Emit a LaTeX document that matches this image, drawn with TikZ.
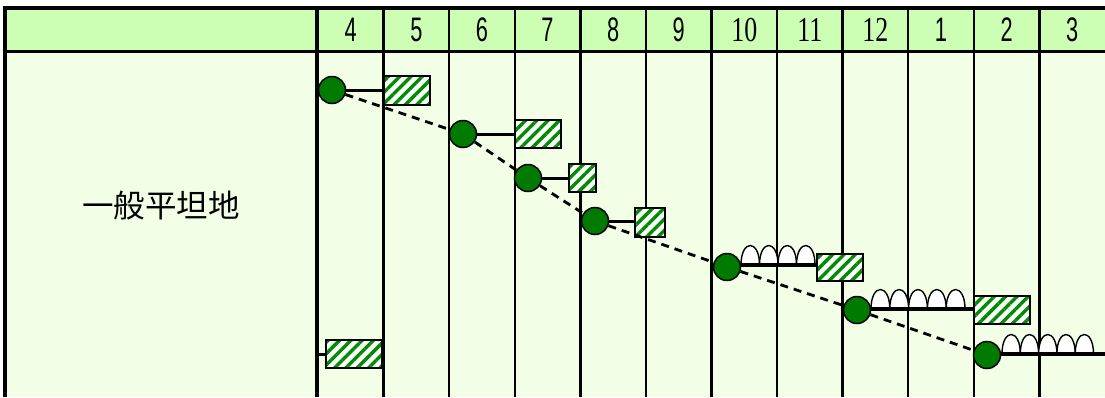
\documentclass[tikz,border=0pt]{standalone}
\usepackage{fontspec}
\usetikzlibrary{patterns.meta}
\newfontfamily\cjkfont{Noto Sans CJK JP}
\newfontfamily\numsans{Liberation Sans}
\newfontfamily\numserif{Liberation Serif}
\definecolor{hdrfill}{RGB}{204,255,180}
\definecolor{bodyfill}{RGB}{242,255,230}
\definecolor{dotgreen}{RGB}{0,122,0}
\definecolor{hatchgreen}{RGB}{0,140,0}
\tikzset{
  gridline/.style={line width=2.4pt},
  heavyline/.style={line width=4pt},
  sowdot/.style={circle, draw=black, line width=1.5pt, fill=dotgreen, minimum size=27pt, inner sep=0pt},
  hatchbox/.style={rectangle, draw=black, line width=2.8pt, inner sep=0pt,
    preaction={fill=white},
    pattern={Lines[angle=45,distance=8pt,line width=3.4pt]}, pattern color=hatchgreen},
  thinbar/.style={line width=3pt},
  thickbar/.style={line width=4.8pt},
  chainline/.style={line width=2.8pt, dash pattern=on 8pt off 6pt},
  archshape/.style={draw=black, line width=1.4pt, fill=white},
  monthsans/.style={font=\fontsize{34}{34}\numsans, anchor=base},
  monthserif/.style={font=\fontsize{35}{35}\numserif, anchor=base},
}
\newcommand{\archrow}[4]{% start x, baseline y, count, width
  \foreach \k in {1,...,#3}{
    \path[archshape] ({#1+(\k-1)*#4},#2) .. controls ({#1+(\k-1)*#4},{#2-26}) and ({#1+\k*#4},{#2-26}) .. ({#1+\k*#4},#2);
  }
}
\begin{document}
\begin{tikzpicture}[x=1pt,y=-1pt]
\useasboundingbox (0,0) rectangle (1105,397);
% backgrounds
\fill[bodyfill] (5,52) rectangle (1105,397);
\fill[hdrfill] (5,8) rectangle (1105,52);
% month grid lines
\foreach \i in {1,...,11}{
  \draw[gridline] ({318+65.58*\i},8) -- ({318+65.58*\i},397);
}
% frame
\draw[heavyline] (3,7.5) -- (1105,7.5);
\draw[line width=3.4pt] (3,51.5) -- (1105,51.5);
\draw[heavyline] (5,6) -- (5,397);
\draw[heavyline] (316.5,6) -- (316.5,397);
% month labels
\foreach \i/\m in {0/4,1/5,2/6,3/7,4/8,5/9,9/1,10/2,11/3}{
  \node[monthsans] (m\m) at ({318+65.58*(\i+0.5)},41.5) {\scalebox{0.64}[1]{\m}};
}
\foreach \i/\m in {6/10,7/11,8/12}{
  \node[monthserif] (m\m) at ({318+65.58*(\i+0.5)},41.5) {\scalebox{0.74}[1]{\m}};
}
% row label
\node[font=\fontsize{31.5}{32}\cjkfont] (label) at (161,206) {一般平坦地};
% arches
\archrow{741}{265}{4}{18.5}
\archrow{871}{309}{5}{18.8}
\archrow{1002}{354}{5}{18.3}
% boxes
\node[hatchbox, minimum width=46pt, minimum height=29pt] (b1) at (407,90.5) {};
\node[hatchbox, minimum width=46pt, minimum height=28pt] (b2) at (538,134) {};
\node[hatchbox, minimum width=27pt, minimum height=28pt] (b3) at (582.5,178) {};
\node[hatchbox, minimum width=30pt, minimum height=29pt] (b4) at (650,222.5) {};
\node[hatchbox, minimum width=46pt, minimum height=27pt] (b5) at (840,267.5) {};
\node[hatchbox, minimum width=56pt, minimum height=28pt] (b6) at (1002,310) {};
\node[hatchbox, minimum width=56pt, minimum height=28pt] (b8) at (354,354) {};
% circles
\node[sowdot] (c1) at (332,90) {};
\node[sowdot] (c2) at (463,134) {};
\node[sowdot] (c3) at (528,178) {};
\node[sowdot] (c4) at (595,221) {};
\node[sowdot] (c5) at (727,267) {};
\node[sowdot] (c6) at (857,310) {};
\node[sowdot] (c7) at (987,355) {};
\coordinate (e7) at (1105,354);
\coordinate (s8) at (318,354);
% dashed chain
\draw[chainline] (c1) -- (c2);
\draw[chainline] (c2) -- (c3);
\draw[chainline] (c3) -- (c4);
\draw[chainline] (c4) -- (c5);
\draw[chainline] (c5) -- (c6);
\draw[chainline] (c6) -- (c7);
% connectors
\draw[thinbar] (c1.east) -- (c1.east -| b1.west);
\draw[thinbar] (c2.east) -- (c2.east -| b2.west);
\draw[thinbar] (c3.east) -- (c3.east -| b3.west);
\draw[thinbar] (c4.east) -- (c4.east -| b4.west);
\draw[thickbar] ([yshift=2pt]c5.east) -- ([yshift=2pt]c5.east -| b5.west);
\draw[thickbar] ([yshift=1pt]c6.east) -- ([yshift=1pt]c6.east -| b6.west);
\draw[thickbar] ([yshift=1pt]c7.east) -- (e7);
\draw[thinbar] (s8) -- (b8.west);
\end{tikzpicture}
\end{document}
